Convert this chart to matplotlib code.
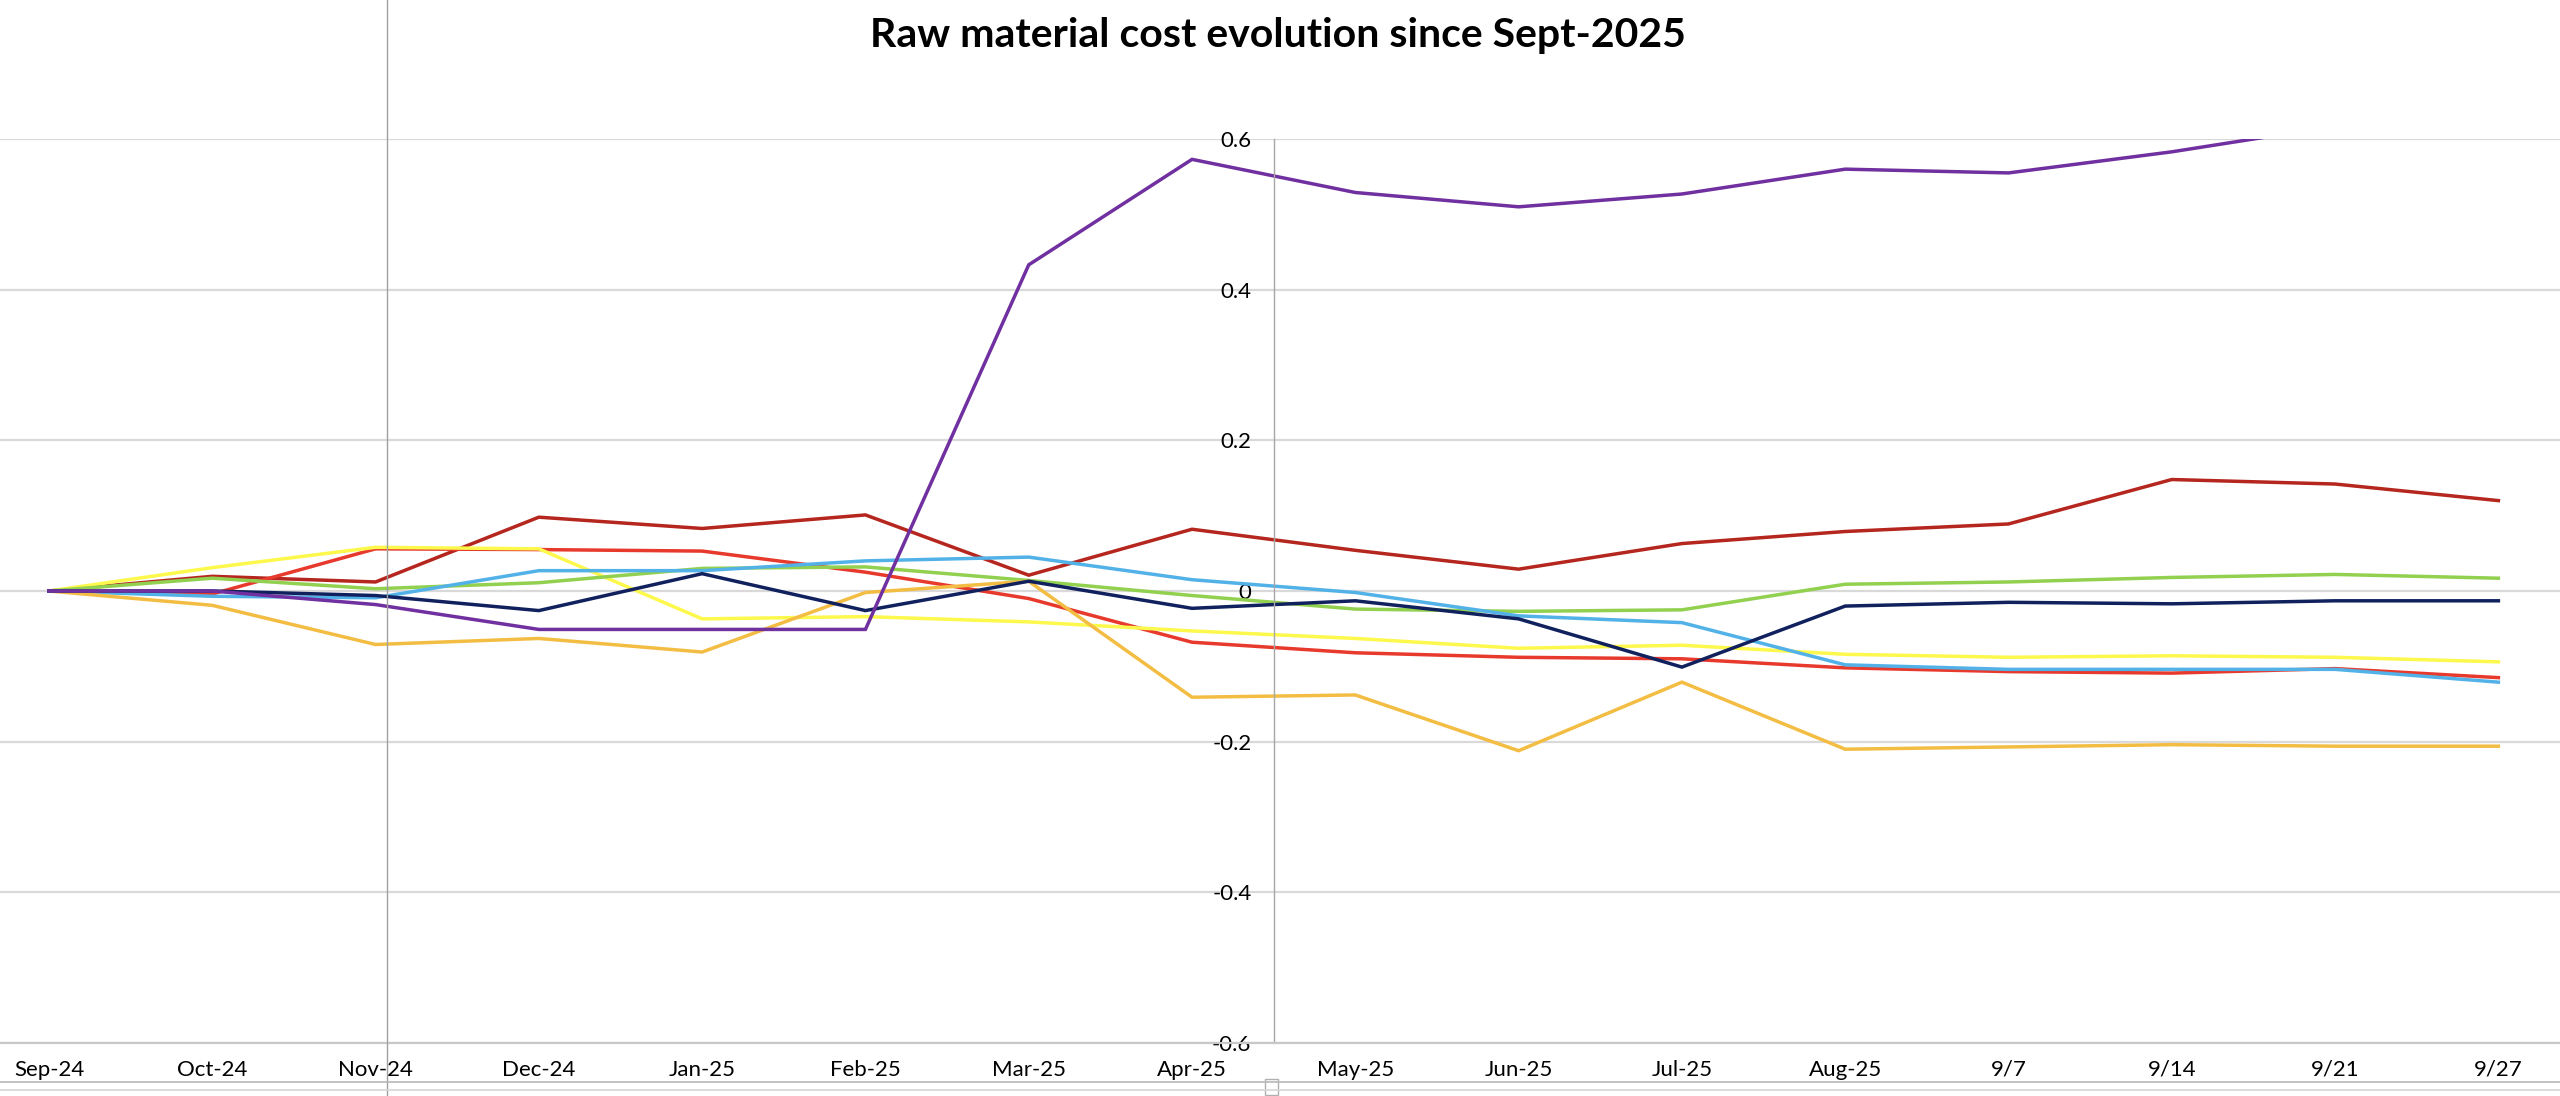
import matplotlib
matplotlib.use("Agg")
import matplotlib.pyplot as plt
from matplotlib.lines import Line2D
from matplotlib.patches import Rectangle

# categories (x axis)
MJESECI = ["Sep-24", "Oct-24", "Nov-24", "Dec-24", "Jan-25", "Feb-25", "Mar-25",
           "Apr-25", "May-25", "Jun-25", "Jul-25", "Aug-25", "9/7", "9/14",
           "9/21", "9/27"]

# series (relative change)
ljubicasta = [0, 0.0, -0.018, -0.051, -0.051, -0.051, 0.433, 0.573, 0.529,
              0.510, 0.527, 0.560, 0.555, 0.583, 0.617, 0.63]
tamnocrvena = [0, 0.0195, 0.012, 0.098, 0.083, 0.101, 0.021, 0.082, 0.054,
               0.029, 0.063, 0.079, 0.089, 0.148, 0.142, 0.120]
crvena = [0, -0.004, 0.056, 0.055, 0.053, 0.025, -0.010, -0.068, -0.082,
          -0.088, -0.090, -0.102, -0.107, -0.109, -0.103, -0.115]
zuta = [0, 0.031, 0.058, 0.056, -0.037, -0.034, -0.041, -0.053, -0.063,
        -0.076, -0.072, -0.084, -0.088, -0.086, -0.088, -0.094]
zelena = [0, 0.017, 0.003, 0.011, 0.030, 0.032, 0.014, -0.006, -0.024,
          -0.027, -0.025, 0.009, 0.012, 0.018, 0.022, 0.017]
svijetloplava = [0, -0.007, -0.009, 0.027, 0.027, 0.040, 0.045, 0.015, -0.002,
                 -0.033, -0.042, -0.098, -0.104, -0.104, -0.104, -0.121]
tamnoplava = [0, 0.0, -0.006, -0.026, 0.023, -0.026, 0.013, -0.023, -0.013,
              -0.037, -0.101, -0.020, -0.015, -0.017, -0.013, -0.013]
zlatna = [0, -0.019, -0.071, -0.063, -0.081, -0.002, 0.013, -0.141, -0.138,
          -0.212, -0.121, -0.210, -0.207, -0.204, -0.206, -0.206]

Y_TICKS = [-0.6, -0.4, -0.2, 0, 0.2, 0.4, 0.6]
Y_LABELE = ["-0.6", "-0.4", "-0.2", "0", "0.2", "0.4", "0.6"]

NASLOV = "Raw material cost evolution since Sept-2025"

plt.rcParams["font.family"] = ["Lato", "DejaVu Sans"]
plt.rcParams["axes.unicode_minus"] = False

fig = plt.figure(figsize=(25.6, 10.96), dpi=100)
# plot area is wider than the screenshot (Excel chart cropped at both sides)
ax = fig.add_axes([-0.01277, 0.04836, 1.0206, 0.8248])

# vertical axis crosses between Apr-25 and May-25 (set before ticks, it resets them)
ax.spines["left"].set_position(("data", 7.5))
ax.spines["left"].set_color("#A6A6A6")
ax.spines["left"].set_linewidth(1.0)
for s in ["top", "right"]:
    ax.spines[s].set_visible(False)
ax.spines["bottom"].set_color("#C8C8C8")
ax.spines["bottom"].set_linewidth(1.6)

x = list(range(len(MJESECI)))
serije = [
    (tamnocrvena, "#B5261E"),
    (crvena, "#E8392D"),
    (zuta, "#FCF84C"),
    (zelena, "#92D050"),
    (svijetloplava, "#52B2E8"),
    (zlatna, "#F3BD44"),
    (tamnoplava, "#10215E"),
    (ljubicasta, "#7030A0"),
]
for vrijednosti, boja in serije:
    ax.plot(x, vrijednosti, color=boja, lw=2.5, solid_joinstyle="miter")

ax.set_xlim(-0.5, len(MJESECI) - 0.5)
ax.set_ylim(-0.6, 0.6)
ax.set_xticks(x)
ax.set_xticklabels(MJESECI, fontsize=16)
ax.set_yticks(Y_TICKS)
ax.set_yticklabels(Y_LABELE, fontsize=16)
ax.tick_params(axis="x", length=0, pad=12)
ax.tick_params(axis="y", length=0, pad=16)
ax.grid(axis="y", color="#D9D9D9", lw=1.6)
ax.set_axisbelow(True)

fig.text(0.4992, 0.968, NASLOV, ha="center", va="center", fontsize=29.5,
         fontweight="bold")

# screenshot leftovers: split line, sheet borders, resize handle
fig.add_artist(Line2D([0.1512, 0.1512], [0, 1], color="#A0A0A0", lw=1.0))
fig.add_artist(Line2D([0, 1], [0.0128, 0.0128], color="#B8B8B8", lw=1.2))
fig.add_artist(Line2D([0, 1], [0.0055, 0.0055], color="#D6D6D6", lw=1.2))
fig.add_artist(Rectangle((0.4941, 0.0009), 0.0051, 0.0146, facecolor="white",
                         edgecolor="#B0B0B0", lw=1.0))

fig.savefig("out.png", dpi=100)
